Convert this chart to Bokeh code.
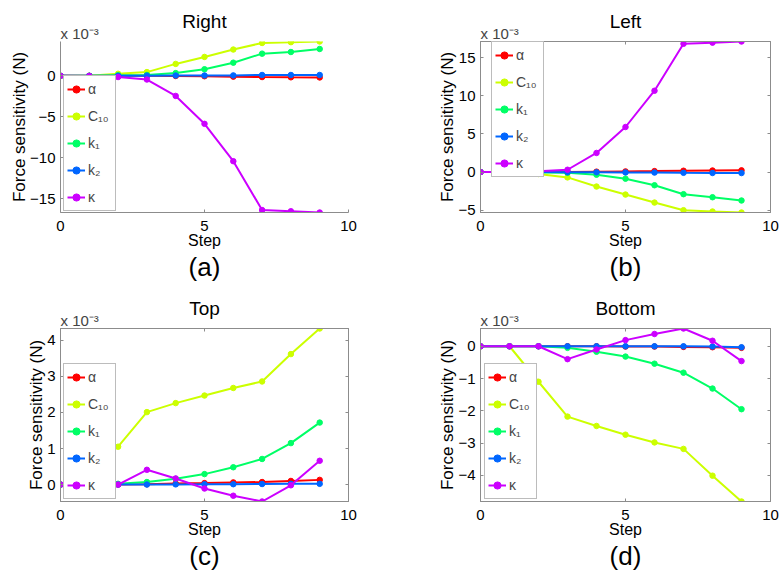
from bokeh.plotting import figure
from bokeh.layouts import gridplot
from bokeh.models import Range1d, Legend, LegendItem, FixedTicker, LinearAxis, Title
from bokeh.embed import file_html
from bokeh.resources import INLINE

# ---------------- data (values x 1e-3 N) ----------------
steps = [0, 1, 2, 3, 4, 5, 6, 7, 8, 9]
series_names = ["α", "C₁₀", "k₁", "k₂", "κ"]
series_colors = ["#FF0000", "#CCFF00", "#00FF66", "#0066FF", "#CC00FF"]

right_alpha = [0, 0, 0, 0, -0.02, -0.05, -0.1, -0.15, -0.18, -0.2]
right_c10 = [0, 0, 0.25, 0.45, 1.45, 2.3, 3.2, 4.0, 4.1, 4.18]
right_k1 = [0, 0, 0.08, 0.1, 0.33, 0.8, 1.6, 2.7, 2.9, 3.27]
right_k2 = [0, 0, 0, 0.02, 0.03, 0.04, 0.05, 0.1, 0.1, 0.1]
right_kappa = [0, -0.02, -0.15, -0.45, -2.45, -5.85, -10.4, -16.35, -16.5, -16.65]

left_alpha = [0, 0, 0, 0.02, 0.05, 0.08, 0.12, 0.17, 0.2, 0.22]
left_c10 = [0, 0, -0.25, -0.7, -1.9, -2.95, -4.0, -5.0, -5.17, -5.3]
left_k1 = [0, 0, -0.05, -0.1, -0.35, -0.87, -1.73, -2.9, -3.3, -3.73]
left_k2 = [0, 0, 0, -0.02, -0.03, -0.05, -0.07, -0.1, -0.12, -0.13]
left_kappa = [0, 0, 0.1, 0.3, 2.5, 5.9, 10.65, 16.8, 16.95, 17.1]

top_alpha = [0, 0, 0, 0.01, 0.03, 0.04, 0.06, 0.07, 0.1, 0.13]
top_c10 = [0, 0.5, 1.05, 2.01, 2.26, 2.47, 2.68, 2.86, 3.62, 4.33]
top_k1 = [0, 0, 0.02, 0.07, 0.16, 0.29, 0.48, 0.71, 1.15, 1.72]
top_k2 = [0, 0, 0, 0, 0.005, 0.01, 0.01, 0.015, 0.02, 0.02]
top_kappa = [0, 0, 0, 0.41, 0.17, -0.11, -0.31, -0.47, -0.02, 0.66]

bottom_alpha = [0, 0, 0, 0, 0, -0.01, -0.01, -0.02, -0.03, -0.05]
bottom_c10 = [0, 0, -1.1, -2.18, -2.47, -2.74, -2.98, -3.18, -4.01, -4.81]
bottom_k1 = [0, 0, 0, -0.05, -0.17, -0.32, -0.54, -0.82, -1.31, -1.95]
bottom_k2 = [0, 0, 0, 0, 0, 0, 0, 0, -0.01, -0.03]
bottom_kappa = [0, 0, 0, -0.4, -0.1, 0.19, 0.38, 0.55, 0.17, -0.46]

x_ticks = [0, 5, 10]
right_yticks = [-15, -10, -5, 0]
left_yticks = [-5, 0, 5, 10, 15]
top_yticks = [0, 1, 2, 3, 4]
bottom_yticks = [-4, -3, -2, -1, 0]

panel_titles = ["Right", "Left", "Top", "Bottom"]
panel_tags = ["(a)", "(b)", "(c)", "(d)"]
x_label = "Step"
y_label = "Force sensitivity (N)"
scale_label = "x 10⁻³"

FONT = "Liberation Sans"
AXIS_COLOR = "#8c8c8c"


def text_axis(label, size, standoff):
    ax = LinearAxis(ticker=FixedTicker(ticks=[]), axis_label=label)
    ax.axis_line_color = None
    ax.major_tick_line_color = None
    ax.minor_tick_line_color = None
    ax.axis_label_text_font = FONT
    ax.axis_label_text_font_size = f"{size}px"
    ax.axis_label_text_font_style = "normal"
    ax.axis_label_text_color = "black"
    ax.axis_label_standoff = standoff
    return ax


def tick_axis(ticks):
    # box-side axis: inward ticks only, no labels
    ax = LinearAxis(ticker=FixedTicker(ticks=ticks))
    ax.axis_line_color = AXIS_COLOR
    ax.major_tick_line_color = AXIS_COLOR
    ax.major_tick_in = 3
    ax.major_tick_out = 0
    ax.minor_tick_line_color = None
    ax.major_label_text_font_size = "0px"
    ax.major_label_text_color = None
    ax.major_label_standoff = 0
    return ax


def make_panel(title, tag, series, yticks, left_border, right_border, top_border,
               bottom_border, legend_loc, boxed):
    W, H = 390, 287
    allv = [v for s in series for v in s]
    ymin, ymax = min(allv), max(allv)
    p = figure(width=W, height=H, x_range=Range1d(0, 10), y_range=Range1d(ymin, ymax),
               output_backend="svg", toolbar_location=None,
               min_border_left=left_border, min_border_right=right_border,
               min_border_top=top_border, min_border_bottom=bottom_border)
    p.xgrid.visible = False
    p.ygrid.visible = False
    p.background_fill_color = "white"
    p.border_fill_color = "white"
    p.outline_line_color = AXIS_COLOR if boxed else None
    p.xaxis.ticker = FixedTicker(ticks=x_ticks)
    p.yaxis.ticker = FixedTicker(ticks=yticks)
    for ax in p.axis:
        ax.axis_line_color = AXIS_COLOR
        ax.major_tick_line_color = AXIS_COLOR
        ax.major_tick_in = 3
        ax.major_tick_out = 0
        ax.minor_tick_line_color = None
        ax.major_label_text_font = FONT
        ax.major_label_text_font_size = "15px"
        ax.major_label_text_color = "black"
        ax.axis_label_text_font = FONT
        ax.axis_label_text_font_style = "normal"
        ax.axis_label_text_color = "black"
    p.yaxis.major_label_standoff = 5
    p.xaxis.major_label_standoff = 8
    p.yaxis.axis_label = y_label
    p.yaxis.axis_label_text_font_size = "17px"
    p.yaxis.axis_label_standoff = -2
    p.xaxis.axis_label = x_label
    p.xaxis.axis_label_text_font_size = "16px"
    p.xaxis.axis_label_standoff = -2

    if boxed:
        p.add_layout(tick_axis(yticks), "right")
        p.add_layout(tick_axis(x_ticks), "above")

    # tag "(a)" below the x label
    p.add_layout(text_axis(tag, 26, 0), "below")
    # "x 10^-3" just above the frame, then the panel title
    p.add_layout(Title(text=scale_label, align="left", text_font=FONT, text_font_size="15px",
                       text_font_style="normal", standoff=0), "above")
    p.add_layout(text_axis(title, 19, -9), "above")

    items = []
    for name, color, ys in zip(series_names, series_colors, series):
        lr = p.line(steps, ys, line_color=color, line_width=2)
        sr = p.scatter(steps, ys, marker="circle", size=5.5, fill_color=color, line_color=color)
        items.append(LegendItem(label=name, renderers=[lr, sr]))

    leg = Legend(items=items, location=legend_loc, orientation="vertical",
                 padding=3, margin=0, spacing=7, glyph_width=18, glyph_height=20,
                 label_height=20, label_width=24, label_standoff=3,
                 border_line_color="#7a7a7a", border_line_width=1,
                 background_fill_color="white", background_fill_alpha=1.0,
                 label_text_font=FONT, label_text_font_size="14px")
    p.add_layout(leg)
    return p


pa = make_panel(panel_titles[0], panel_tags[0],
                [right_alpha, right_c10, right_k1, right_k2, right_kappa], right_yticks,
                60, 42, 40, 75, (3, 1), False)
pb = make_panel(panel_titles[1], panel_tags[1],
                [left_alpha, left_c10, left_k1, left_k2, left_kappa], left_yticks,
                90, 10, 41, 75, (11, 35), True)
pc = make_panel(panel_titles[2], panel_tags[2],
                [top_alpha, top_c10, top_k1, top_k2, top_kappa], top_yticks,
                60, 42, 41, 73, (3, 2), True)
pd = make_panel(panel_titles[3], panel_tags[3],
                [bottom_alpha, bottom_c10, bottom_k1, bottom_k2, bottom_kappa], bottom_yticks,
                90, 10, 41, 73, (4, 2), True)

grid = gridplot([[pa, pb], [pc, pd]], toolbar_location=None)
open("out.html", "w").write(file_html(grid, INLINE))
